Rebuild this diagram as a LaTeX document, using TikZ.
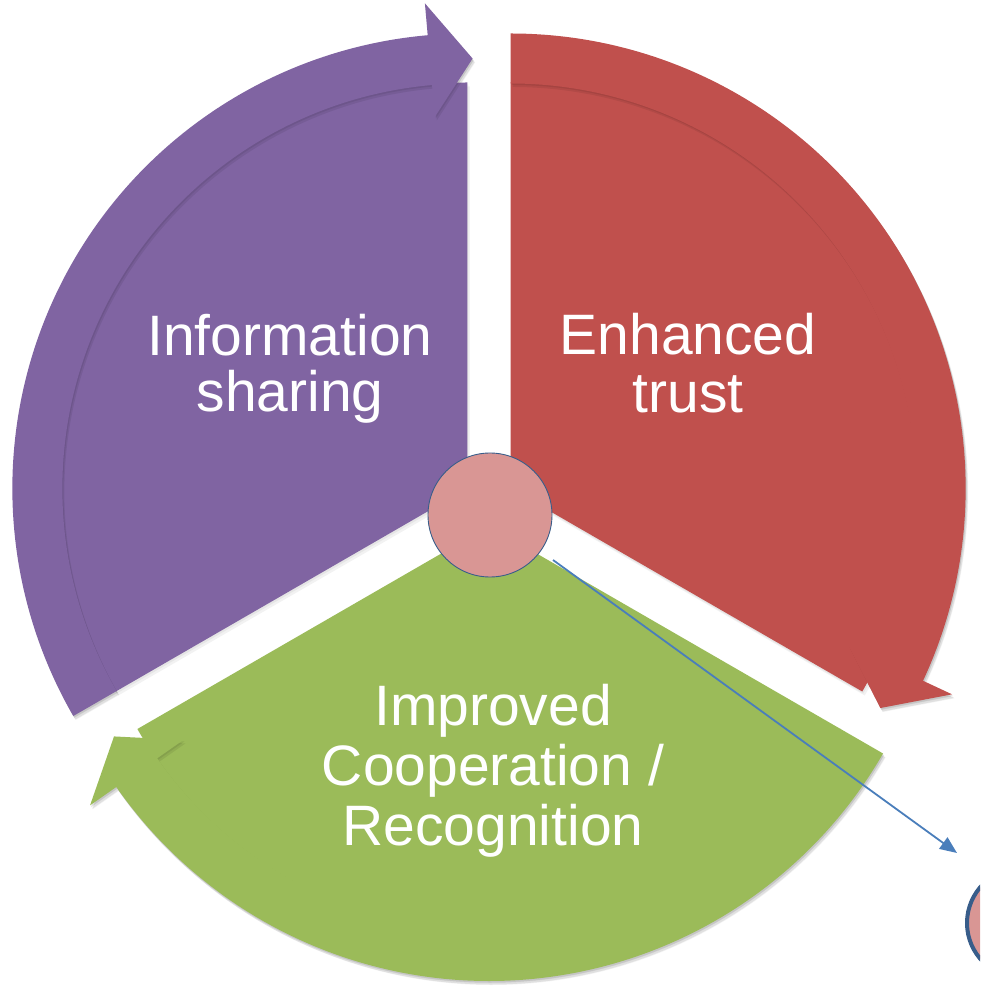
\documentclass[tikz,border=0pt]{standalone}
\usepackage{fontspec}
\setmainfont{Liberation Sans}
\usetikzlibrary{arrows.meta}
\definecolor{cpurple}{HTML}{8064A2}
\definecolor{cred}{HTML}{C0504D}
\definecolor{cgreen}{HTML}{9BBB59}
\definecolor{ccircle}{HTML}{D99694}
\definecolor{cborder}{HTML}{385D8A}
\definecolor{cline}{HTML}{4A7EBB}
% wedge: #1 start angle, #2 end angle
\newcommand\wedgeshape[2]{%
  (0,0) -- (#1:406) arc[start angle=#1, end angle=#2, radius=406pt] -- cycle}
% band: #1 start angle, #2 head base angle, #3 tip angle
\newcommand\bandshape[3]{%
  (#1:455) arc[start angle=#1, end angle=#2, radius=455pt] -- (#2:487) -- (#3:430)
  -- (#2:373) -- (#2:405) arc[start angle=#2, end angle=#1, radius=405pt] -- cycle}
\newcommand\segment[6]{% #1 vertex angle, #2 colour, #3 start, #4 head base, #5 tip, #6 end
  \begin{scope}[shift={(#1:25)}]
    \fill[black, opacity=0.05, shift={(1,-2)}] \wedgeshape{#3}{#6};
    \fill[black, opacity=0.05, shift={(2.5,-4)}] \wedgeshape{#3}{#6};
    \fill[black, opacity=0.05, shift={(1,-2)}] \bandshape{#3}{#4}{#5};
    \fill[black, opacity=0.05, shift={(2.5,-4)}] \bandshape{#3}{#4}{#5};
    \fill[#2] \wedgeshape{#3}{#6};
    \fill[black, opacity=0.07, shift={(1,-1.5)}] \bandshape{#3}{#4}{#5};
    \fill[black, opacity=0.07, shift={(2,-3.5)}] \bandshape{#3}{#4}{#5};
    \fill[#2] \bandshape{#3}{#4}{#5};
  \end{scope}}
\tikzset{
  label text/.style={text=white, align=center, inner sep=0pt,
    font=\fontsize{57}{56}\selectfont},
  hub/.style={circle, fill=ccircle, draw=cborder, line width=0.9pt,
    minimum size=124pt, inner sep=0pt},
  mini/.style={circle, fill=ccircle, draw=cborder, line width=4pt,
    minimum size=110pt, inner sep=0pt},
  link/.style={cline, line width=1.8pt, -{Triangle[length=17pt,width=14pt]}}
}
\begin{document}
\begin{tikzpicture}[x=1pt, y=1pt]
  \useasboundingbox (-489,-486) rectangle (491,501);
  \fill[white] (-489,-486) rectangle (491,501);
  % segments
  \segment{150}{cpurple}{210}{95}{89.3}{90}
  \segment{30}{cred}{90}{-25}{-30.7}{-30}
  \segment{270}{cgreen}{330}{215}{209.3}{210}
  % labels (base = baseline of last line)
  \node[label text, anchor=base] (tinfo) at (-199,89) {Information\\sharing};
  \node[label text, anchor=base, font=\fontsize{57}{58}\selectfont] (ttrust) at (199,88) {Enhanced\\trust};
  \node[label text, anchor=base, font=\fontsize{57}{60}\selectfont] (tcoop) at (4,-344)
    {Improved\\Cooperation /\\Recognition};
  % centre circle and pointer
  \node[hub] (centre) at (1,-14) {};
  \begin{scope}
    \clip (-489,-486) rectangle (491,501);
    \node[mini] (small) at (533,-422) {};
  \end{scope}
  \coordinate (ps) at (64,-59);
  \coordinate (pe) at (468,-352);
  \draw[link] (ps) -- (pe);
\end{tikzpicture}
\end{document}
